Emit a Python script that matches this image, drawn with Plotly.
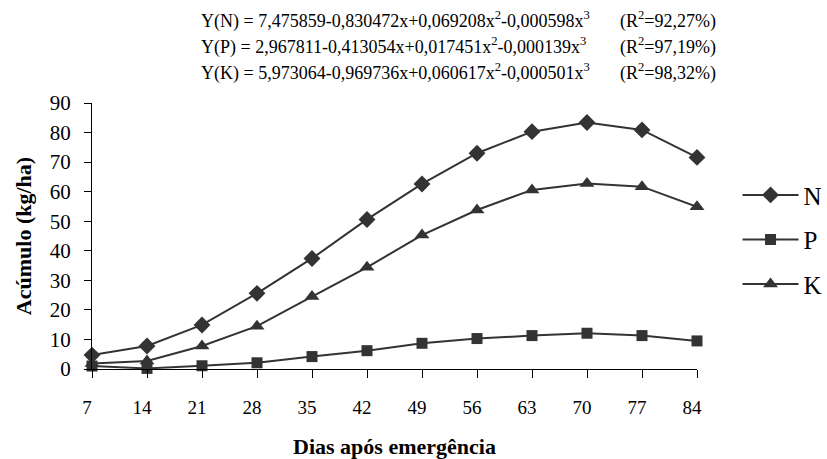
import plotly.graph_objects as go

dias = [7, 14, 21, 28, 35, 42, 49, 56, 63, 70, 77, 84]
N_vals = [4.7, 7.8, 14.9, 25.6, 37.4, 50.6, 62.6, 73.0, 80.3, 83.4, 80.9, 71.6]
P_vals = [1.0, 0.2, 1.1, 2.1, 4.2, 6.2, 8.7, 10.3, 11.3, 12.1, 11.3, 9.5]
K_vals = [1.9, 2.7, 7.8, 14.5, 24.5, 34.4, 45.3, 53.8, 60.6, 62.8, 61.7, 54.9]
y_ticks = [0, 10, 20, 30, 40, 50, 60, 70, 80, 90]

equations = [
    ("Y(N) = 7,475859-0,830472x+0,069208x<sup>2</sup>-0,000598x<sup>3</sup>", "(R<sup>2</sup>=92,27%)"),
    ("Y(P) = 2,967811-0,413054x+0,017451x<sup>2</sup>-0,000139x<sup>3</sup>", "(R<sup>2</sup>=97,19%)"),
    ("Y(K) = 5,973064-0,969736x+0,060617x<sup>2</sup>-0,000501x<sup>3</sup>", "(R<sup>2</sup>=98,32%)"),
]

FONT = "'Liberation Serif', 'Times New Roman', Times, serif"
C = "#333333"

fig = go.Figure()
series = [("N", N_vals, "diamond", 13), ("P", P_vals, "square", 11), ("K", K_vals, "triangle-up", 13)]
for i, (name, vals, sym, sz) in enumerate(series):
    fig.add_trace(go.Scatter(
        x=dias, y=vals, name=name, mode="lines+markers",
        line=dict(color=C, width=2),
        marker=dict(symbol=sym, size=sz, color=C),
        cliponaxis=False, legendgroup=name,
    ))

W, H = 827, 459
ml, mr, mt, mb = 92, 130, 103, 90
for i, (eq, r2) in enumerate(equations):
    ypix = 20 + i * 26
    fig.add_annotation(text=eq, xref="paper", yref="paper", x=(199 - ml) / (W - ml - mr),
                       y=1 + (mt - ypix) / (H - mt - mb), xanchor="left", yanchor="middle",
                       showarrow=False, font=dict(family=FONT, size=18, color="#000"))
    fig.add_annotation(text=r2, xref="paper", yref="paper", x=(618 - ml) / (W - ml - mr),
                       y=1 + (mt - ypix) / (H - mt - mb), xanchor="left", yanchor="middle",
                       showarrow=False, font=dict(family=FONT, size=18, color="#000"))

fig.update_layout(
    width=W, height=H,
    margin=dict(l=ml, r=mr, t=mt, b=mb, pad=0, autoexpand=False),
    paper_bgcolor="white", plot_bgcolor="white",
    font=dict(family=FONT, color="#000"),
    showlegend=True,
    legend=dict(x=1.067, y=0.74, xanchor="left", yanchor="top",
                font=dict(family=FONT, size=25, color="#000"),
                tracegroupgap=9, itemwidth=56, bgcolor="rgba(0,0,0,0)"),
    xaxis=dict(range=[7, 84], tickvals=dias, ticktext=[str(d) for d in dias],
               showgrid=False, zeroline=False, showline=True, linecolor="#000", linewidth=1,
               ticks="outside", ticklen=8, tickcolor="#000", automargin=False,
               tickfont=dict(family=FONT, size=19, color="#000"), ticklabelstandoff=13,
               ticklabelshift=-5,
               title=dict(text="<b>Dias após emergência</b>", font=dict(family=FONT, size=22, color="#000"), standoff=27)),
    yaxis=dict(range=[0, 90], tickvals=y_ticks, ticktext=[str(v) for v in y_ticks],
               showgrid=False, zeroline=False, showline=True, linecolor="#000", linewidth=1,
               ticks="outside", ticklen=7, tickcolor="#000", automargin=False,
               tickfont=dict(family=FONT, size=21, color="#000"), ticklabelstandoff=9,
               title=dict(text="<b>Acúmulo (kg/ha)</b>", font=dict(family=FONT, size=22, color="#000"), standoff=12)),
)

fig.write_html("out.html")
